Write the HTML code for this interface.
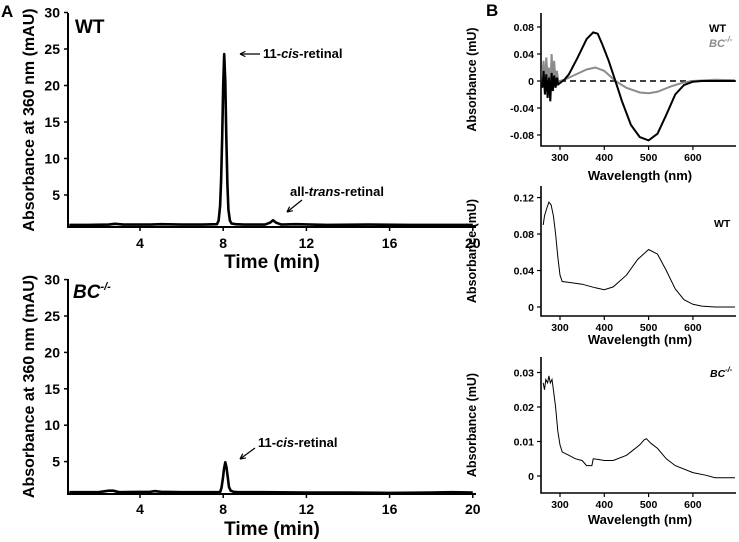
<!DOCTYPE html>
<html><head><meta charset="utf-8">
<style>
html,body{margin:0;padding:0;background:#fff;}
svg{display:block;font-family:"Liberation Sans",Arial,sans-serif;}
</style></head>
<body>
<svg id="fig" width="739" height="542" viewBox="0 0 739 542">
<text x="1" y="17" font-size="17" font-weight="bold">A</text>
<text x="486" y="16" font-size="17" font-weight="bold">B</text>
</svg>
<script>
// Chromatogram data (Panel A)
const wtTimes = [0.6,1.5,2.5,2.8,3.2,4.5,5,6,7,7.7,7.78,7.85,7.9,7.95,8.0,8.05,8.1,8.15,8.2,8.25,8.32,8.4,8.6,9,10,10.25,10.4,10.55,10.8,11.5,13,15,17,19,20];
const wtAbs   = [0.9,0.9,0.95,1.05,0.95,0.95,1.0,0.95,0.95,1.0,1.5,3.5,7,13,20,24.3,20.5,13,6.5,3,1.5,1.1,1.0,0.95,0.95,1.2,1.55,1.2,0.95,1.0,0.9,0.95,0.9,0.9,0.9];
const bcTimes = [0.6,2,2.5,2.7,3,4.5,4.7,5,6,7.85,7.92,7.98,8.04,8.1,8.16,8.22,8.28,8.36,8.5,8.7,10,12,14,16,18,19,20];
const bcAbs   = [0.8,0.8,1.0,1.0,0.8,0.85,0.95,0.85,0.8,0.8,1.4,2.6,4.0,4.9,4.2,2.8,1.5,1.0,0.85,0.8,0.8,0.75,0.75,0.7,0.75,0.8,0.75];
const timeTicks = [4,8,12,16,20];
const absTicks = [5,10,15,20,25,30];
// CD spectra (Panel B top)
const cdWtWl = [260,263,266,269,272,275,278,281,284,287,290,293,296,300,310,320,340,360,375,385,395,410,425,440,460,480,500,520,540,560,580,600,620,650,695];
const cdWtVal = [-0.01,0.015,-0.02,0.01,-0.025,0.005,-0.03,0.012,-0.015,0.008,-0.01,0.005,-0.005,-0.003,0.002,0.01,0.035,0.062,0.072,0.07,0.055,0.03,0.0,-0.03,-0.065,-0.083,-0.088,-0.078,-0.05,-0.02,-0.006,-0.001,0,0,0];
const cdBcWl = [260,263,266,269,272,275,278,281,284,287,290,293,296,300,310,330,360,380,400,425,450,480,500,520,550,580,600,650,695];
const cdBcVal = [0.01,0.03,-0.01,0.035,0.005,0.02,-0.015,0.04,0.0,0.03,-0.005,0.015,0.0,0.0,0.002,0.008,0.017,0.02,0.015,0.0,-0.01,-0.017,-0.018,-0.016,-0.008,-0.002,0.0,0.002,0.001];
const cdTicks = [0.08,0.04,0,-0.04,-0.08];
// Absorbance spectra
const absWtWl = [262,265,270,275,280,285,290,295,300,305,320,350,380,400,420,450,475,500,520,540,560,580,600,620,650,695];
const absWtVal = [0.09,0.10,0.108,0.115,0.112,0.10,0.08,0.055,0.035,0.028,0.027,0.025,0.021,0.019,0.022,0.035,0.052,0.063,0.058,0.04,0.02,0.008,0.003,0.001,0.0,0.0];
const absWtTicks = [0,0.04,0.08,0.12];
const absBcWl = [262,265,268,272,275,278,282,285,290,295,300,305,320,335,350,360,365,372,375,385,400,420,450,480,490,495,505,520,540,560,600,630,650,695];
const absBcVal = [0.027,0.025,0.028,0.027,0.029,0.027,0.028,0.025,0.02,0.013,0.009,0.007,0.006,0.005,0.0045,0.003,0.003,0.003,0.005,0.0048,0.0045,0.0045,0.006,0.009,0.0105,0.0108,0.0095,0.008,0.005,0.003,0.001,0.0002,-0.0005,-0.0005];
const absBcTicks = [0,0.01,0.02,0.03];
const wlTicks = [300,400,500,600];

const NS = "http://www.w3.org/2000/svg";
const svg = document.getElementById('fig');
function mk(tag, attrs, parent){const e=document.createElementNS(NS,tag);for(const k in attrs)e.setAttribute(k,attrs[k]);(parent||svg).appendChild(e);return e;}
function txt(x,y,s,size,extra,parent){const e=mk('text',Object.assign({x:x,y:y,'font-size':size,'font-weight':'bold'},extra||{}),parent);e.textContent=s;return e;}
function pathFrom(xs,ys,sx,sy){return xs.map((v,i)=>(i?'L':'M')+sx(v).toFixed(1)+','+sy(ys[i]).toFixed(1)).join('');}

// ---------- Panel A chromatograms ----------
function chrom(name, y0, scale, axisY, topY, times, vals, tickLabelY, titleY){
  const g=mk('g',{});
  
  
  const sx=t=>140+(t-4)*20.8;
  const sy=v=>y0-v*scale;
  const ax=mk('path',{d:`M68,${topY}L68,${axisY}L476,${axisY}`,stroke:'#000','stroke-width':2,fill:'none'},g);
  
  
  absTicks.forEach(v=>{mk('line',{x1:64,x2:68,y1:sy(v),y2:sy(v),stroke:'#000','stroke-width':1.5},g);
    const t=txt(60,sy(v)+5,String(v),14,{'text-anchor':'end'},g);
    
    });
  timeTicks.forEach(v=>{mk('line',{x1:sx(v),x2:sx(v),y1:axisY,y2:axisY+4,stroke:'#000','stroke-width':1.5},g);
    const t=txt(sx(v),tickLabelY,String(v),14,{'text-anchor':'middle'},g);
    
    });
  const tt=txt(272,titleY,'Time (min)',19,{'text-anchor':'middle'},g);
  
  
  const yl=txt(0,0,'Absorbance at 360 nm (mAU)',16,{'text-anchor':'middle',transform:`translate(34,${(topY+axisY)/2}) rotate(-90)`},g);
  
  
  const p=mk('path',{d:pathFrom(times,vals,sx,sy),stroke:'#000','stroke-width':2.6,fill:'none','stroke-linejoin':'round'},g);
  
  
  return {g,sx,sy};
}
const A1=chrom('wt-chromatogram',231.5,7.3,227,13,wtTimes,wtAbs,248,268);
const A2=chrom('bc-chromatogram',498,7.28,494,279,bcTimes,bcAbs,514,535);
function arrow(x1,y1,x2,y2,name){const l=mk('path',{d:`M${x1},${y1}L${x2},${y2}`,stroke:'#000','stroke-width':1.2,fill:'none'});
  
  
  const a=Math.atan2(y2-y1,x2-x1),s=6;
  mk('path',{d:`M${x2},${y2}L${x2-s*Math.cos(a-0.45)},${y2-s*Math.sin(a-0.45)}M${x2},${y2}L${x2-s*Math.cos(a+0.45)},${y2-s*Math.sin(a+0.45)}`,stroke:'#000','stroke-width':1.2,fill:'none'});}
let t;
t=txt(75,33,'WT',19,{});  
t=mk('text',{x:73,y:298,'font-size':19,'font-weight':'bold','font-style':'italic'}); t.innerHTML='BC<tspan dy="-8" font-size="11">-/-</tspan>';
 
arrow(260,54,240,54,'wt-cis-arrow');
t=mk('text',{x:263,y:58,'font-size':13,'font-weight':'bold'}); t.innerHTML='11-<tspan font-style="italic">cis</tspan>-retinal';
 
arrow(302,200,287,212,'wt-trans-arrow');
t=mk('text',{x:290,y:196,'font-size':13,'font-weight':'bold'}); t.innerHTML='all-<tspan font-style="italic">trans</tspan>-retinal';
 
arrow(255,448,240,459,'bc-cis-arrow');
t=mk('text',{x:258,y:447,'font-size':13,'font-weight':'bold'}); t.innerHTML='11-<tspan font-style="italic">cis</tspan>-retinal';
 

// ---------- Panel B ----------
const bx=w=>560+(w-300)*0.443;
function spec(name, topY, axisY, sy, ticks, fmt, titleY, labelY){
  const g=mk('g',{});
  
  
  const ax=mk('path',{d:`M541,${topY}L541,${axisY}L736,${axisY}`,stroke:'#000','stroke-width':1.6,fill:'none'},g);
  
  
  ticks.forEach(v=>{mk('line',{x1:537,x2:541,y1:sy(v),y2:sy(v),stroke:'#000','stroke-width':1.2},g);
    const t=txt(534,sy(v)+4,fmt(v),10.5,{'text-anchor':'end'},g);
    
    });
  wlTicks.forEach(v=>{mk('line',{x1:bx(v),x2:bx(v),y1:axisY,y2:axisY+4,stroke:'#000','stroke-width':1.2},g);
    const t=txt(bx(v),axisY+15,String(v),10.5,{'text-anchor':'middle'},g);
    
    });
  const tt=txt(640,titleY,'Wavelength (nm)',13,{'text-anchor':'middle'},g);
  
  
  const yl=txt(0,0,'Absorbance (mU)',12.5,{'text-anchor':'middle',transform:`translate(${labelY},${(topY+axisY)/2}) rotate(-90)`},g);
  
  
  return g;
}
const fmt=v=>v===0?'0':String(v);
const cdY=v=>81-v*675;
const g1=spec('cd-spectrum-chart',13,146,cdY,cdTicks,fmt,180,476);
const dash=mk('line',{x1:bx(300),x2:736,y1:cdY(0),y2:cdY(0),stroke:'#000','stroke-width':1.6,'stroke-dasharray':'6,4'},g1);


let p=mk('path',{d:pathFrom(cdBcWl,cdBcVal,bx,cdY),stroke:'#8c8c8c','stroke-width':2,fill:'none'},g1);


p=mk('path',{d:pathFrom(cdWtWl,cdWtVal,bx,cdY),stroke:'#000','stroke-width':2,fill:'none'},g1);


t=txt(709,32,'WT',11,{});  
t=mk('text',{x:709,y:47,'font-size':11,'font-weight':'bold','font-style':'italic',fill:'#8c8c8c'}); t.innerHTML='BC<tspan dy="-5" font-size="8">-/-</tspan>';
 

const abY=v=>307-v*912;
const g2=spec('wt-absorbance-chart',186,316,abY,absWtTicks,fmt,344,476);
p=mk('path',{d:pathFrom(absWtWl,absWtVal,bx,abY),stroke:'#000','stroke-width':1,fill:'none'},g2);


t=txt(714,227,'WT',10.5,{});  

const bbY=v=>476-v*3450;
const g3=spec('bc-absorbance-chart',357,493,bbY,absBcTicks,fmt,524,476);
p=mk('path',{d:pathFrom(absBcWl,absBcVal,bx,bbY),stroke:'#000','stroke-width':1,fill:'none'},g3);


t=mk('text',{x:710,y:377,'font-size':10.5,'font-weight':'bold','font-style':'italic'}); t.innerHTML='BC<tspan dy="-5" font-size="7.5">-/-</tspan>';
 
</script>
</body></html>
